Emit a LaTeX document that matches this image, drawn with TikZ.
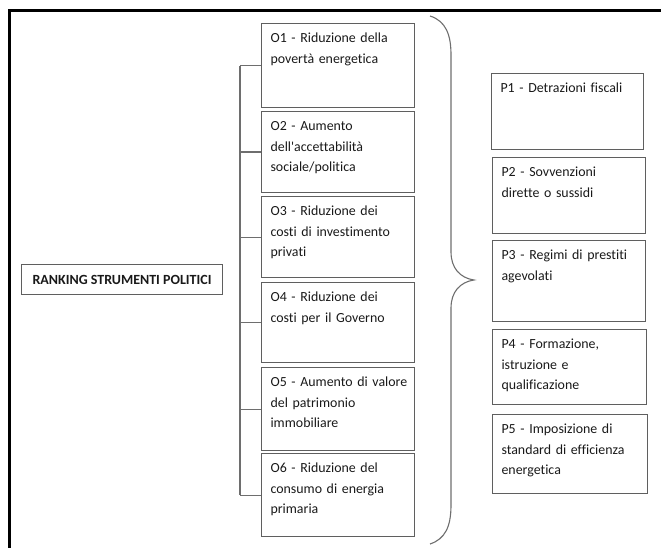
\documentclass[tikz,border=0pt]{standalone}
\usepackage{fontspec}
\newfontfamily\carl{Carlito}[Ligatures={NoCommon}]
\definecolor{boxgray}{RGB}{95,95,95}
\definecolor{linegray}{RGB}{110,110,110}
\definecolor{txt}{RGB}{25,25,25}
\begin{document}
\begin{tikzpicture}[x=1pt,y=-1pt,
  every node/.style={font=\carl\fontsize{13.9}{20.5}\selectfont, text=txt},
  pbox/.style n args={3}{draw=boxgray, line width=1.1pt, anchor=north west,
    inner xsep=9pt, inner ysep=0pt, align=left,
    execute at begin node={\hyphenpenalty=10000},
    minimum width=#1pt, text width=#2pt, text height=19pt, text depth=#3pt},
  tree/.style={draw=linegray, line width=1.1pt},
  bracestyle/.style={draw=linegray, line width=1.1pt},
  frame/.style={draw=black, line width=3pt}
]
\useasboundingbox (0,0) rectangle (661,548);
\draw[frame] (9,548) -- (9,11) -- (661,11);

\node[draw=boxgray, line width=1.1pt, anchor=north west, minimum width=201pt,
  minimum height=30pt, inner sep=0pt, font=\carl\bfseries\fontsize{14}{17}\selectfont]
  (rank) at (21,264) {RANKING STRUMENTI POLITICI};

% objective boxes (width 153)
\node[pbox={153}{135}{65}] (o1) at (261,23) {O1 - Riduzione della\\povertà energetica};
\node[pbox={153}{135}{62}] (o2) at (261,111) {O2 - Aumento\\dell'accettabilità\\sociale/politica};
\node[pbox={153}{135}{62}] (o3) at (261,196) {O3 - Riduzione dei\\costi di investimento\\privati};
\node[pbox={153}{135}{61}] (o4) at (261,282) {O4 - Riduzione dei\\costi per il Governo};
\node[pbox={153}{135}{64}] (o5) at (261,367) {\mbox{O5 - Aumento di valore}\\del patrimonio\\immobiliare};
\node[pbox={153}{135}{64}] (o6) at (261,453) {O6 - Riduzione del\\consumo di energia\\primaria};

% tree
\coordinate (trunk) at (240,0);
\draw[tree] (o1.west -| trunk) -- (o6.west -| trunk);
\foreach \i in {1,...,6}{
  \draw[tree] (o\i.west) -- (o\i.west -| trunk);
}

% brace
\draw[bracestyle] (430,16) .. controls (446,21) and (451,35) .. (451,55)
  -- (451,252) .. controls (451,268) and (460,278) .. (474,280)
  .. controls (460,282) and (451,292) .. (451,308)
  -- (451,505) .. controls (451,527) and (445,539) .. (430,544);

% policy boxes
\node[pbox={152}{134}{57}] (p1) at (491,73) {P1 - Detrazioni fiscali};
\node[pbox={153}{135}{57}] (p2) at (492,157) {P2 - Sovvenzioni\\dirette o sussidi};
\node[pbox={153}{135}{62}] (p3) at (492,240) {P3 - Regimi di prestiti\\agevolati};
\node[pbox={154}{136}{56}] (p4) at (492,329) {P4 - Formazione,\\istruzione e\\qualificazione};
\node[pbox={155}{137}{60}] (p5) at (492,414) {P5 - Imposizione di\\standard di efficienza\\energetica};
\end{tikzpicture}
\end{document}
